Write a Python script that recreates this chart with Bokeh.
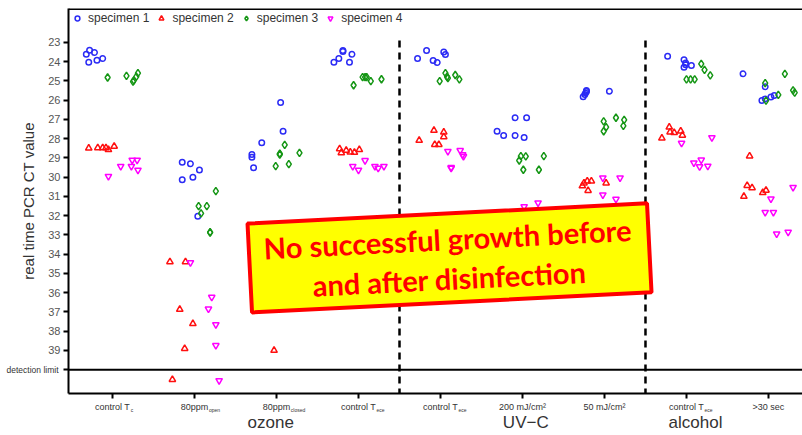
from bokeh.plotting import figure
from bokeh.models import Range1d, FixedTicker, Span, Legend, LegendItem, LinearAxis
from bokeh.core.properties import value
from bokeh.embed import file_html
from bokeh.resources import INLINE

# ---------------- data ----------------
categories = ["control T", "80ppm", "80ppm", "control T", "control T",
              "200 mJ/cm²", "50 mJ/cm²", "control T", ">30 sec"]
subscripts = ["c", "open", "closed", "ece", "ece", "", "", "ece", ""]
groups = ["ozone", "UV−C", "alcohol"]
group_centers = [2.93, 6.04, 8.11]
group_bounds = [4.5, 7.5]
y_ticks = list(range(23, 41))
detection_limit = 40
series_names = ["specimen 1", "specimen 2", "specimen 3", "specimen 4"]

# specimen 1 (per category 1..9): CT values and horizontal jitter
s1_ct = [[23.61, 23.40, 23.52, 24.02, 23.92, 23.83],
         [29.22, 29.30, 29.63, 30.13, 30.00, 32.02],
         [26.12, 27.61, 28.21, 28.82, 28.96, 29.51],
         [23.42, 23.47, 23.61, 23.83, 24.02, 24.02],
         [23.83, 23.42, 23.94, 24.04, 23.50, 23.62],
         [26.91, 26.91, 27.61, 27.83, 27.83, 27.94],
         [25.82, 25.70, 25.62, 25.55, 25.50, 25.53],
         [23.71, 23.90, 24.06, 24.28, 24.16, 24.19],
         [24.63, 25.30, 26.01, 25.93, 25.83, 25.75]]
s1_jit = [[-0.32, -0.28, -0.22, -0.29, -0.19, -0.12],
          [-0.15, -0.05, 0.06, -0.15, -0.02, 0.04],
          [0.05, 0.08, -0.18, -0.30, -0.30, -0.28],
          [-0.19, -0.19, -0.08, -0.24, -0.30, -0.11],
          [-0.28, -0.17, -0.09, -0.04, 0.04, 0.06],
          [-0.09, 0.05, -0.31, -0.23, -0.09, 0.02],
          [-0.26, -0.24, -0.23, -0.22, -0.22, 0.06],
          [-0.23, -0.03, -0.01, -0.03, -0.01, 0.06],
          [-0.31, -0.04, -0.08, -0.04, 0.03, 0.07]]

# specimen 2
s2_ct = [[28.49, 28.47, 28.47, 28.47, 28.57, 28.39],
         [34.39, 34.39, 36.87, 37.61, 38.90, 40.51],
         [39.00],
         [28.52, 28.61, 28.73, 28.71, 28.57, 28.70],
         [28.09, 27.57, 27.66, 27.90, 28.30, 28.30],
         [],
         [30.45, 30.30, 30.20, 30.20, 30.30, 30.69],
         [27.97, 27.40, 27.65, 27.68, 27.60, 27.82],
         [28.90, 30.43, 30.55, 31.00, 30.80, 30.68]]
s2_jit = [[-0.29, -0.18, -0.12, -0.08, -0.05, 0.02],
          [-0.30, -0.11, -0.18, -0.02, -0.12, -0.27],
          [-0.03],
          [-0.23, -0.15, -0.21, -0.05, 0.01, -0.10],
          [-0.26, -0.08, 0.04, 0.04, -0.07, -0.02],
          [],
          [-0.27, -0.25, -0.21, -0.16, 0.02, -0.20],
          [-0.30, -0.21, -0.20, -0.15, -0.07, -0.05],
          [-0.23, -0.26, -0.20, -0.30, -0.07, -0.03]]

# specimen 3
s3_ct = [[24.82, 24.73, 24.59, 24.77, 24.97, 25.03],
         [30.72, 31.50, 31.50, 31.88, 32.85, 32.88],
         [28.32, 28.78, 28.82, 28.73, 29.42, 29.32],
         [25.22, 24.80, 24.80, 24.80, 25.01, 24.91],
         [25.01, 24.59, 24.78, 24.85, 24.69, 24.92],
         [28.90, 28.92, 29.13, 28.90, 29.61, 29.61],
         [27.10, 27.40, 27.61, 26.91, 27.02, 27.33],
         [24.11, 24.42, 24.71, 24.92, 24.92, 24.92],
         [24.63, 25.11, 26.02, 25.72, 25.49, 25.60]]
s3_jit = [[-0.06, 0.17, 0.31, 0.29, 0.26, 0.25],
          [0.26, 0.05, 0.15, 0.08, 0.19, 0.19],
          [0.10, 0.04, 0.04, 0.28, -0.01, 0.15],
          [-0.06, 0.05, 0.08, 0.10, 0.15, 0.28],
          [-0.01, 0.06, 0.08, 0.09, 0.18, 0.23],
          [-0.02, 0.04, -0.04, 0.26, 0.01, 0.20],
          [-0.01, 0.02, -0.01, 0.14, 0.24, 0.23],
          [0.18, 0.22, 0.29, 0.00, 0.05, 0.10],
          [0.20, -0.04, -0.03, 0.12, 0.30, 0.32]]

# specimen 4
s4_ct = [[29.95, 29.43, 29.43, 29.11, 29.11, 29.63],
         [34.43, 36.23, 36.84, 37.65, 38.74, 40.56],
         [],
         [29.43, 29.63, 29.13, 29.43, 29.53, 29.43],
         [28.65, 28.61, 28.82, 28.92, 29.49, 29.53],
         [31.52, 31.33],
         [30.03, 30.03, 30.91, 31.14],
         [27.94, 28.23, 29.25, 29.10, 29.45, 29.42],
         [30.52, 31.12, 31.82, 31.82, 32.94, 32.85]]
s4_jit = [[-0.05, 0.10, 0.23, 0.24, 0.30, 0.31],
          [-0.05, 0.21, 0.17, 0.26, 0.26, 0.30],
          [],
          [-0.07, 0.00, 0.08, 0.20, 0.24, 0.31],
          [0.09, 0.24, 0.27, 0.28, 0.13, 0.13],
          [0.02, 0.19],
          [-0.02, 0.19, -0.02, 0.14],
          [0.31, -0.06, 0.09, 0.18, 0.16, 0.26],
          [0.30, 0.03, -0.04, 0.06, 0.10, 0.24]]

note_text = "No successful growth before\nand after disinfection"

# ---------------- layout constants ----------------
FONT = "Liberation Sans"
PX_PER_CAT = 82.0
X_START, X_END = 0.463, 9.415
Y_BOTTOM, Y_TOP = 41.234, 21.234

# approximate Arial advance widths (em) to place the small subscripts
_W = {"c": .5, "o": .556, "n": .556, "t": .278, "r": .333, "l": .222, " ": .278,
      "T": .611, "8": .556, "0": .556, "p": .556, "m": .833, "e": .556, "s": .5,
      "d": .556}

def text_w(s, size):
    return sum(_W.get(ch, .556) for ch in s) * size


def flatten(ct, jit):
    xs, ys = [], []
    for i, (c, j) in enumerate(zip(ct, jit)):
        for v, d in zip(c, j):
            xs.append(i + 1 + d)
            ys.append(v)
    return xs, ys


p = figure(width=802, height=435, output_backend="svg", toolbar_location=None,
           x_range=Range1d(X_START, X_END), y_range=Range1d(Y_BOTTOM, Y_TOP),
           min_border_left=68, min_border_right=0, min_border_top=8,
           min_border_bottom=42)
p.grid.visible = False
p.outline_line_color = None
p.background_fill_color = "white"
p.border_fill_color = "white"

# y axis
ya = p.yaxis[0]
ya.ticker = FixedTicker(ticks=y_ticks)
ya.major_label_overrides = {detection_limit: ""}
ya.axis_line_width = 2
ya.axis_line_color = "black"
ya.major_tick_out = 5
ya.major_tick_in = 0
ya.major_tick_line_width = 2
ya.minor_tick_line_color = None
ya.major_label_text_font = FONT
ya.major_label_text_font_size = "11px"
ya.major_label_text_color = "#555555"
ya.major_label_standoff = 3
ya.axis_label = "real time PCR CT value"
ya.axis_label_text_font = FONT
ya.axis_label_text_font_size = "15px"
ya.axis_label_text_font_style = "normal"
ya.axis_label_text_color = "#333333"
ya.axis_label_standoff = 8

# extra left axis carrying the small "detection limit" label
dl_axis = LinearAxis(ticker=FixedTicker(ticks=[detection_limit]),
                     major_label_overrides={detection_limit: "detection limit"},
                     axis_line_color=None, major_tick_line_color=None,
                     minor_tick_line_color=None, major_tick_out=0, major_tick_in=0,
                     major_label_standoff=-41, major_label_text_font=FONT,
                     major_label_text_font_size="8.5px",
                     major_label_text_color="#333333")
p.add_layout(dl_axis, "left")

# x axis
xa = p.xaxis[0]
xa.ticker = FixedTicker(ticks=list(range(1, len(categories) + 1)))
xa.major_label_overrides = {i + 1: c for i, c in enumerate(categories)}
xa.axis_line_width = 2
xa.axis_line_color = "black"
xa.major_tick_out = 5
xa.major_tick_in = 0
xa.major_tick_line_width = 2
xa.minor_tick_line_color = None
xa.major_label_text_font = FONT
xa.major_label_text_font_size = "9px"
xa.major_label_text_color = "#333333"
xa.major_label_standoff = 3

# extra below axis: subscripts right after the tick labels
sub_ticks, sub_over = [], {}
for i, (c, s) in enumerate(zip(categories, subscripts)):
    if s:
        off = (text_w(c, 9) / 2 + 0.6 + text_w(s, 5) / 2) / PX_PER_CAT
        t = round(i + 1 + off, 4)
        sub_ticks.append(t)
        sub_over[t] = s
sub_axis = LinearAxis(ticker=FixedTicker(ticks=sub_ticks), major_label_overrides=sub_over,
                      axis_line_color=None, major_tick_line_color=None,
                      minor_tick_line_color=None, major_tick_out=0, major_tick_in=0,
                      major_label_standoff=-8, major_label_text_font=FONT,
                      major_label_text_font_size="5px", major_label_text_color="#333333")
p.add_layout(sub_axis, "below")

# extra below axis: treatment groups
grp_axis = LinearAxis(ticker=FixedTicker(ticks=group_centers),
                      major_label_overrides={g: n for g, n in zip(group_centers, groups)},
                      axis_line_color=None, major_tick_line_color=None,
                      minor_tick_line_color=None, major_tick_out=0, major_tick_in=0,
                      major_label_standoff=-3, major_label_text_font=FONT,
                      major_label_text_font_size="17px", major_label_text_color="#333333")
p.add_layout(grp_axis, "below")

# frame top line and detection limit
p.add_layout(Span(location=Y_TOP, dimension="width", line_color="black", line_width=3))
p.add_layout(Span(location=detection_limit, dimension="width", line_color="black", line_width=2))

# group dividers
p.segment(x0=group_bounds, x1=group_bounds, y0=[22.9] * len(group_bounds),
          y1=[Y_BOTTOM] * len(group_bounds), line_color="black", line_width=2.5,
          line_dash="7 5")

# points
styles = [("circle", "#2b2bf5", 5.5), ("triangle", "#ff1010", 6.5),
          ("diamond", "#159615", 7.5), ("inverted_triangle", "#ff00ff", 6.5)]
renderers = []
for (ct, jit), (mk, col, sz) in zip([(s1_ct, s1_jit), (s2_ct, s2_jit),
                                     (s3_ct, s3_jit), (s4_ct, s4_jit)], styles):
    xs, ys = flatten(ct, jit)
    r = p.scatter(xs, ys, marker=mk, size=sz, line_color=col, fill_color=None,
                  line_width=1.5)
    renderers.append(r)

legend = Legend(items=[LegendItem(label=n, renderers=[r]) for n, r in zip(series_names, renderers)],
                orientation="horizontal", location="top_left",
                label_text_font=FONT, label_text_font_size="12px",
                label_text_color="#333333", glyph_width=12, glyph_height=12,
                label_height=12, label_standoff=5, spacing=6, padding=2, margin=3,
                border_line_color=None, background_fill_alpha=0)
p.add_layout(legend)

# annotation box
p.rect(x=[5.11], y=[34.19], width=[400], height=[89], width_units="screen",
       height_units="screen", angle=2.9, angle_units="deg", fill_color="#ffff00",
       line_color="#ff0000", line_width=4)
p.text(x=[5.098], y=[34.22], text=[note_text], angle=2.9, angle_units="deg",
       text_align="center", text_baseline="middle", text_color="#ff0000",
       text_font=value("Lato"), text_font_style="bold", text_font_size="29px",
       text_line_height=1.13)

open("out.html", "w").write(file_html(p, INLINE))
